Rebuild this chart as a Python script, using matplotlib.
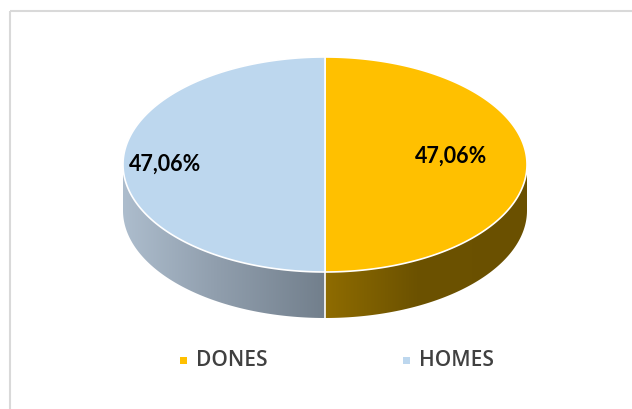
import numpy as np
import matplotlib.pyplot as plt
from matplotlib.patches import Polygon, Rectangle
from matplotlib.colors import LinearSegmentedColormap

# dades
labels = ['DONES', 'HOMES']
values = [47.06, 47.06]
pct_text = ['47,06%', '47,06%']

top_colors = ['#FFC000', '#BDD7EE']
# colors del costat: (extrem esquerre, punt mig, extrem dret)
side_colors = [('#8F6C00', '#6C5200', '#6A5000'), ('#ADBDCD', '#919FAE', '#727F8C')]

# geometria del pastís (en píxels)
W, H = 632, 409
cx, cy = 325, 164.5
rx, ry = 202, 107.5
depth = 46

fig = plt.figure(figsize=(W / 100, H / 100), dpi=100)
ax = fig.add_axes([0, 0, 1, 1])
ax.set_xlim(0, W)
ax.set_ylim(H, 0)
ax.axis('off')

# marc del gràfic
ax.add_patch(Rectangle((10, 10.5), W, H, fill=False, edgecolor='#D9D9D9', linewidth=1.5))


def pt(t, dy=0):
    # t en graus, 0 = dreta, sentit horari en pantalla (y cap avall)
    r = np.radians(t)
    return cx + rx * np.cos(r), cy + ry * np.sin(r) + dy


# angles de cada porció, començant a dalt i girant en sentit horari
total = sum(values)
start = -90.0
wedges = []
for v in values:
    span = 360.0 * v / total
    wedges.append((start, start + span))
    start += span

# costats (només la meitat frontal, 0..180 graus)
for (a0, a1), cols in zip(wedges, side_colors):
    lo, hi = max(a0, 0), min(a1, 180)
    if lo >= hi:
        # la porció pot passar per 360
        lo, hi = max(a0 - 360, 0), min(a1 - 360, 180)
        if lo >= hi:
            continue
    t = np.linspace(lo, hi, 100)
    top = np.array([pt(a) for a in t])
    bot = np.array([pt(a, depth) for a in t[::-1]])
    poly = Polygon(np.vstack([top, bot]), closed=True, facecolor='none', edgecolor='none')
    ax.add_patch(poly)
    x0, x1 = top[:, 0].min(), top[:, 0].max()
    cmap = LinearSegmentedColormap.from_list('s', list(zip([0, 0.45, 1], cols)))
    grad = np.linspace(0, 1, 256).reshape(1, -1)
    im = ax.imshow(grad, cmap=cmap, extent=[x0, x1, cy + ry + depth + 2, cy - 2],
                   aspect='auto', zorder=1)
    im.set_clip_path(poly)

# línia de separació al costat
ax.plot([cx, cx], [cy + ry, cy + ry + depth], color='white', lw=1.2, zorder=2)

# cara superior
for (a0, a1), col in zip(wedges, top_colors):
    t = np.linspace(a0, a1, 200)
    pts = np.vstack([[cx, cy], np.array([pt(a) for a in t])])
    ax.add_patch(Polygon(pts, closed=True, facecolor=col, edgecolor='white',
                         linewidth=1.2, zorder=3))

# etiquetes de percentatge
ax.text(451, 156, pct_text[0], ha='center', va='center', fontsize=15.5,
        fontweight='bold', family='Lato', color='black', zorder=4)
ax.text(165, 164, pct_text[1], ha='center', va='center', fontsize=15.5,
        fontweight='bold', family='Lato', color='black', zorder=4)

# llegenda
leg_x = [180, 403]
for x, lab, col in zip(leg_x, labels, top_colors):
    ax.add_patch(Rectangle((x, 357), 7, 7, facecolor=col, edgecolor='none'))
    ax.text(x + 16, 361, lab, ha='left', va='center', fontsize=15,
            fontweight='semibold', family='Open Sans', color='#404040')

fig.savefig('out.png', dpi=100)
